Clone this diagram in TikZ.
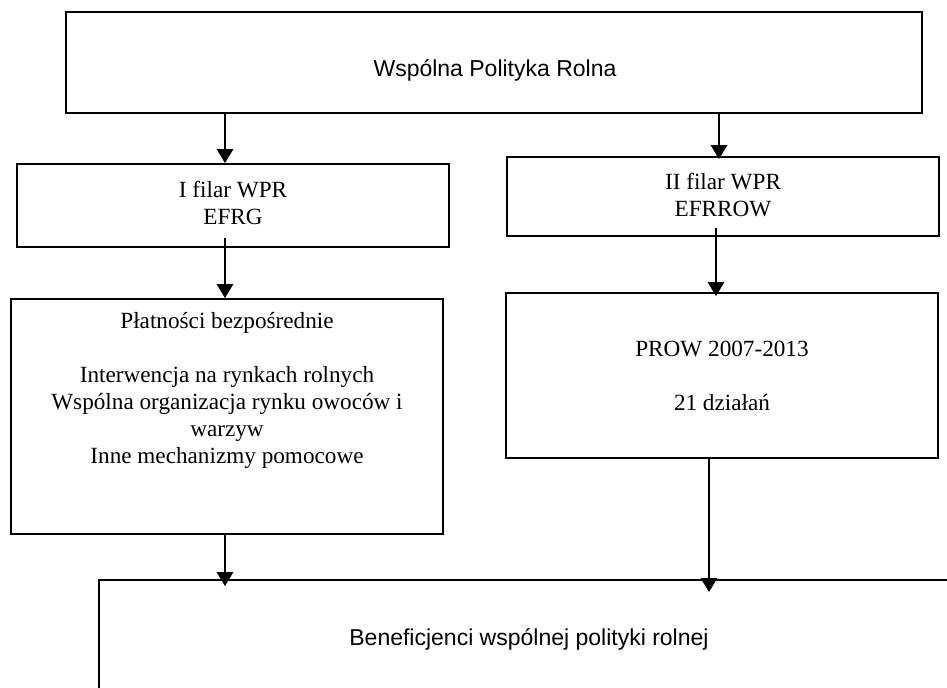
\documentclass[tikz,border=0pt]{standalone}
\usepackage{fontspec}
\setmainfont{Liberation Serif}
\newfontfamily\arialf{Liberation Sans}
\usetikzlibrary{arrows.meta,fit}
\begin{document}
\begin{tikzpicture}[x=0.5pt,y=-0.5pt,
  box/.style={draw=black,line width=0.85pt,inner sep=0pt},
  sanstxt/.style={font=\arialf\fontsize{11.5}{13.5}\selectfont,inner sep=0pt},
  serif/.style={font=\fontsize{11.6}{13.5}\selectfont,align=center,inner sep=0pt},
  arr/.style={line width=1.4pt,-{Triangle[width=8pt,length=7pt]}}]
\useasboundingbox (0,0) rectangle (947,688);
\clip (0,0) rectangle (947,688);
% boxes
\node[box,fit={(66,12)(922,113)}] (wpr) {};
\node[box,fit={(17,164)(449,247)}] (f1) {};
\node[box,fit={(507,157)(939,236)}] (f2) {};
\node[box,fit={(11,299)(443,534)}] (pl) {};
\node[box,fit={(506,293)(938,458)}] (prow) {};
\node[box,fit={(99,580)(1000,760)}] (ben) {};
% texts
\node[sanstxt] (wprt) at (495,70) {Wspólna Polityka Rolna};
\node[serif] (f1t) at (233,202.5) {I filar WPR\\EFRG};
\node[serif] (f2t) at (723,195) {II filar WPR\\EFRROW};
\node[serif] (plt) at (227,390) {Płatności bezpośrednie\\[13.5pt]Interwencja na rynkach rolnych\\Wspólna organizacja rynku owoców i\\warzyw\\Inne mechanizmy pomocowe};
\node[serif] (prowt) at (722,375.5) {PROW 2007-2013\\[13.5pt]21 działań};
\node[sanstxt] (bent) at (529,639) {Beneficjenci wspólnej polityki rolnej};
% connectors
\draw[arr] (225,0 |- wpr.south) -- (225,0 |- f1.north);
\draw[arr] (719,0 |- wpr.south) -- ([yshift=-1.5pt]719,0 |- f2.north);
\draw[arr,shorten <=-5pt] (225,0 |- f1.south) -- (225,0 |- pl.north);
\draw[arr,shorten <=-4.5pt,shorten >=-2pt] (716,0 |- f2.south) -- (716,0 |- prow.north);
\draw[arr,shorten >=-3.5pt] (225,0 |- pl.south) -- (225,0 |- ben.north);
\draw[arr,shorten >=-6.5pt] (709,0 |- prow.south) -- (709,0 |- ben.north);
\end{tikzpicture}
\end{document}
